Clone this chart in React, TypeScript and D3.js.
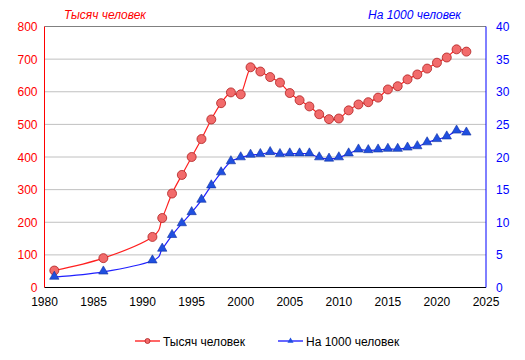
import React, { useEffect, useRef } from "react";
import * as d3 from "d3";

const years = [1981, 1986, 1991, 1992, 1993, 1994, 1995, 1996, 1997, 1998, 1999, 2000, 2001, 2002, 2003, 2004, 2005, 2006, 2007, 2008, 2009, 2010, 2011, 2012, 2013, 2014, 2015, 2016, 2017, 2018, 2019, 2020, 2021, 2022, 2023];
const thousands = [52, 90, 155, 213, 288, 345, 400, 455, 515, 565, 598, 592, 675, 662, 645, 628, 596, 574, 555, 531, 516, 518, 543, 561, 568, 582, 607, 617, 638, 653, 671, 689, 705, 730, 723];
const per1000 = [1.6, 2.4, 4.1, 5.9, 8.0, 9.8, 11.5, 13.4, 15.6, 17.6, 19.3, 19.9, 20.3, 20.4, 20.7, 20.4, 20.5, 20.5, 20.5, 19.9, 19.7, 19.9, 20.5, 21.1, 21.0, 21.1, 21.2, 21.2, 21.4, 21.6, 22.2, 22.7, 23.1, 24.0, 23.7];
const xTicks = [1980, 1985, 1990, 1995, 2000, 2005, 2010, 2015, 2020, 2025];
const leftTicks = [0, 100, 200, 300, 400, 500, 600, 700, 800];
const rightTicks = [0, 5, 10, 15, 20, 25, 30, 35, 40];
const seriesNames = ["Тысяч человек", "На 1000 человек"];

const App = () => {
  const ref = useRef<SVGSVGElement>(null);

  useEffect(() => {
    const width = 525;
    const height = 360;
    const margin = { top: 26.5, right: 39, bottom: 72.5, left: 44.5 };
    const innerWidth = width - margin.left - margin.right;
    const innerHeight = height - margin.top - margin.bottom;
    const font = "'Liberation Sans', Arial, sans-serif";

    const svg = d3.select(ref.current);
    svg.selectAll("*").remove();

    const g = svg.append("g").attr("transform", `translate(${margin.left}, ${margin.top})`);

    const xScale = d3.scaleLinear().domain([1980, 2025]).range([0, innerWidth]);
    const yLeft = d3.scaleLinear().domain([0, 800]).range([innerHeight, 0]);
    const yRight = d3.scaleLinear().domain([0, 40]).range([innerHeight, 0]);

    // gridlines
    g.selectAll(".grid")
      .data(leftTicks.slice(1))
      .join("line")
      .attr("x1", 0)
      .attr("x2", innerWidth)
      .attr("y1", d => yLeft(d))
      .attr("y2", d => yLeft(d))
      .attr("stroke", d => (d === 800 ? "#808080" : "#c0c0c0"))
      .attr("stroke-width", 1);

    // axes lines
    g.append("line").attr("x1", 0).attr("x2", innerWidth).attr("y1", innerHeight).attr("y2", innerHeight).attr("stroke", "#000");
    g.append("line").attr("x1", 0).attr("x2", 0).attr("y1", 0).attr("y2", innerHeight).attr("stroke", "#ff0000");
    g.append("line").attr("x1", innerWidth).attr("x2", innerWidth).attr("y1", 0).attr("y2", innerHeight).attr("stroke", "#0000ff");

    // tick labels
    g.selectAll(".xl")
      .data(xTicks)
      .join("text")
      .attr("x", d => xScale(d))
      .attr("y", innerHeight + 18)
      .attr("text-anchor", "middle")
      .attr("font-family", font)
      .attr("font-size", 12)
      .attr("fill", "#000")
      .text(d => d);

    g.selectAll(".yl")
      .data(leftTicks)
      .join("text")
      .attr("x", -7)
      .attr("y", d => yLeft(d) + 4.5)
      .attr("text-anchor", "end")
      .attr("font-family", font)
      .attr("font-size", 12)
      .attr("fill", "#ff0000")
      .text(d => d);

    g.selectAll(".yr")
      .data(rightTicks)
      .join("text")
      .attr("x", innerWidth + 10)
      .attr("y", d => yRight(d) + 4.5)
      .attr("text-anchor", "start")
      .attr("font-family", font)
      .attr("font-size", 12)
      .attr("fill", "#0000ff")
      .text(d => d);

    // axis titles
    svg.append("text")
      .attr("x", 64)
      .attr("y", 19)
      .attr("font-family", font)
      .attr("font-size", 12)
      .attr("font-style", "italic")
      .attr("fill", "#ff0000")
      .text(seriesNames[0]);

    svg.append("text")
      .attr("x", 461)
      .attr("y", 19)
      .attr("text-anchor", "end")
      .attr("font-family", font)
      .attr("font-size", 12)
      .attr("font-style", "italic")
      .attr("fill", "#0000ff")
      .text(seriesNames[1]);

    const redLine = d3.line<number>()
      .x((d, i) => xScale(years[i]))
      .y(d => yLeft(d))
      .curve(d3.curveCatmullRom.alpha(0));

    const blueLine = d3.line<number>()
      .x((d, i) => xScale(years[i]))
      .y(d => yRight(d))
      .curve(d3.curveCatmullRom.alpha(0));

    g.append("path")
      .datum(thousands)
      .attr("d", redLine)
      .attr("fill", "none")
      .attr("stroke", "#ff2020")
      .attr("stroke-width", 1.2);

    g.append("path")
      .datum(per1000)
      .attr("d", blueLine)
      .attr("fill", "none")
      .attr("stroke", "#2020ff")
      .attr("stroke-width", 1.2);

    g.selectAll(".dot")
      .data(thousands)
      .join("circle")
      .attr("cx", (d, i) => xScale(years[i]))
      .attr("cy", d => yLeft(d))
      .attr("r", 4.5)
      .attr("fill", "#f26b6b")
      .attr("stroke", "#b02020")
      .attr("stroke-width", 0.8);

    const tri = d3.symbol().type(d3.symbolTriangle).size(38);
    g.selectAll(".tri")
      .data(per1000)
      .join("path")
      .attr("d", tri)
      .attr("transform", (d, i) => `translate(${xScale(years[i])}, ${yRight(d) - 0.5})`)
      .attr("fill", "#1f4fe0")
      .attr("stroke", "#1030a0")
      .attr("stroke-width", 0.6);

    // legend
    const legend = svg.append("g").attr("transform", "translate(0, 341)");
    legend.append("line").attr("x1", 135).attr("x2", 160).attr("y1", 0).attr("y2", 0).attr("stroke", "#ff0000").attr("stroke-width", 1.2);
    legend.append("circle").attr("cx", 147.5).attr("cy", 0).attr("r", 2.5).attr("fill", "#f26b6b").attr("stroke", "#b02020").attr("stroke-width", 0.8);
    legend.append("text")
      .attr("x", 163)
      .attr("y", 4.5)
      .attr("font-family", font)
      .attr("font-size", 12)
      .attr("fill", "#000")
      .text(seriesNames[0]);
    legend.append("line").attr("x1", 278).attr("x2", 303).attr("y1", 0).attr("y2", 0).attr("stroke", "#0000ff").attr("stroke-width", 1.2);
    legend.append("path")
      .attr("d", d3.symbol().type(d3.symbolTriangle).size(16))
      .attr("transform", "translate(290.5, 0)")
      .attr("fill", "#1f4fe0");
    legend.append("text")
      .attr("x", 306)
      .attr("y", 4.5)
      .attr("font-family", font)
      .attr("font-size", 12)
      .attr("fill", "#000")
      .text(seriesNames[1]);
  }, []);

  return (
    <svg ref={ref} width={525} height={360} style={{ position: "absolute", left: 0, top: 0, background: "#fff" }} />
  );
};

export default App;
